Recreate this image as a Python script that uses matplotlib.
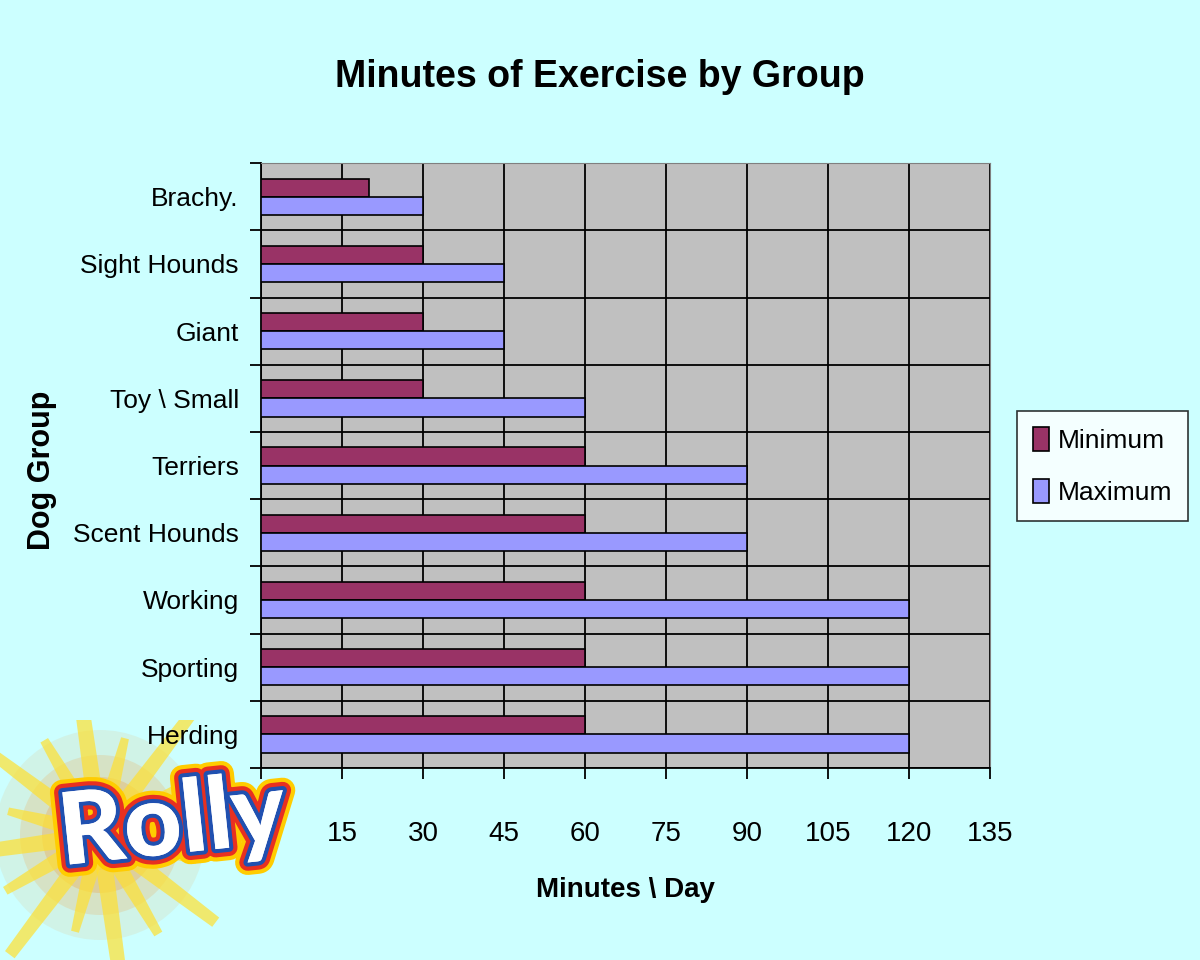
import matplotlib.pyplot as plt
import matplotlib.patheffects as pe
from matplotlib.patches import Polygon, Circle
import numpy as np

groups = ['Brachy.', 'Sight Hounds', 'Giant', 'Toy \\ Small', 'Terriers',
          'Scent Hounds', 'Working', 'Sporting', 'Herding']
minimum = [20, 30, 30, 30, 60, 60, 60, 60, 60]
maximum = [30, 45, 45, 60, 90, 90, 120, 120, 120]
xticks = [0, 15, 30, 45, 60, 75, 90, 105, 120, 135]

bg = '#ccffff'
font = ['Liberation Sans Narrow', 'Liberation Sans', 'DejaVu Sans']

fig = plt.figure(figsize=(12, 9.6), dpi=100, facecolor=bg)
ax = fig.add_axes([0.2175, 0.2, 0.6075, 0.63])
ax.set_facecolor('#c0c0c0')
ax.set_zorder(2)

y = np.arange(len(groups))
h = 0.27
ax.barh(y - h / 2, minimum, height=h, color='#993366', edgecolor='black',
        linewidth=1.2, label='Minimum', zorder=3)
ax.barh(y + h / 2, maximum, height=h, color='#9999ff', edgecolor='black',
        linewidth=1.2, label='Maximum', zorder=3)

ax.set_xlim(0, 135)
ax.set_ylim(len(groups) - 0.5, -0.5)

# vertical grid lines and category separators
ax.set_xticks(xticks)
ax.set_xticklabels(['' if t == 0 else str(t) for t in xticks], family=font, fontsize=20)
ax.set_yticks(y)
ax.set_yticklabels(groups, family=font, fontsize=19)
ax.set_yticks(np.arange(len(groups) + 1) - 0.5, minor=True)
ax.tick_params(axis='y', which='major', length=0, pad=16)
ax.tick_params(axis='y', which='minor', length=8, width=1.3, direction='out')
ax.tick_params(axis='x', length=8, width=1.3, direction='out', pad=30)
ax.grid(axis='x', which='major', color='black', linewidth=1.3, zorder=1)
ax.grid(axis='y', which='minor', color='black', linewidth=1.3, zorder=1)
ax.set_axisbelow(True)
for side in ['top', 'right']:
    ax.spines[side].set_color('#808080')
for side in ['left', 'bottom']:
    ax.spines[side].set_color('black')
    ax.spines[side].set_linewidth(1.3)

fig.text(0.5, 0.92, 'Minutes of Exercise by Group', ha='center', va='center',
         family=font, fontsize=27, fontweight='bold')
ax.set_xlabel('Minutes \\ Day', family=font, fontsize=20, fontweight='bold', labelpad=22)
fig.text(0.035, 0.51, 'Dog Group', rotation=90, ha='center', va='center',
         family=font, fontsize=22, fontweight='bold')

leg = ax.legend(loc='center left', bbox_to_anchor=(1.037, 0.499), frameon=True,
                fancybox=False, prop={'family': font, 'size': 19},
                handlelength=0.6, handleheight=1.0, handletextpad=0.35,
                labelspacing=1.0, borderpad=0.6, borderaxespad=0)
leg.get_frame().set_edgecolor('black')
leg.get_frame().set_linewidth(1.2)

# "Rolly" badge in the lower left corner
logo = fig.add_axes([0, 0, 0.3, 0.25])
logo.set_zorder(1)
logo.set_xlim(0, 360)
logo.set_ylim(0, 240)
logo.axis('off')
cx, cy = 100, 125
for r, a in [(105, 0.12), (80, 0.2), (58, 0.3), (35, 0.35)]:
    logo.add_patch(Circle((cx, cy), r, color='#f0a040', alpha=a, lw=0))
ray_ang = np.deg2rad(np.arange(0, 360, 22.5) + 8)
ray_len = [160, 110, 150, 100, 170, 110, 135, 95, 160, 110, 150, 100, 170, 115, 145, 100]
for ang, ln in zip(ray_ang, ray_len):
    w = 0.04
    pts = [(cx + 25 * np.cos(ang - 0.35), cy + 25 * np.sin(ang - 0.35)),
           (cx + ln * np.cos(ang - w), cy + ln * np.sin(ang - w)),
           (cx + ln * np.cos(ang + w), cy + ln * np.sin(ang + w)),
           (cx + 25 * np.cos(ang + 0.35), cy + 25 * np.sin(ang + 0.35))]
    logo.add_patch(Polygon(pts, color='#ffe030', alpha=0.7, lw=0))
logo.text(172, 135, 'Rolly', ha='center', va='center', fontsize=72,
          fontweight='black', family=['Lato', 'DejaVu Sans'], color='white',
          rotation=6,
          path_effects=[pe.withStroke(linewidth=18, foreground='#ffcc00'),
                        pe.withStroke(linewidth=12, foreground='#e83020'),
                        pe.withStroke(linewidth=6, foreground='#2050b0'),
                        pe.Normal()])

fig.savefig('out.png', dpi=100, facecolor=bg)
